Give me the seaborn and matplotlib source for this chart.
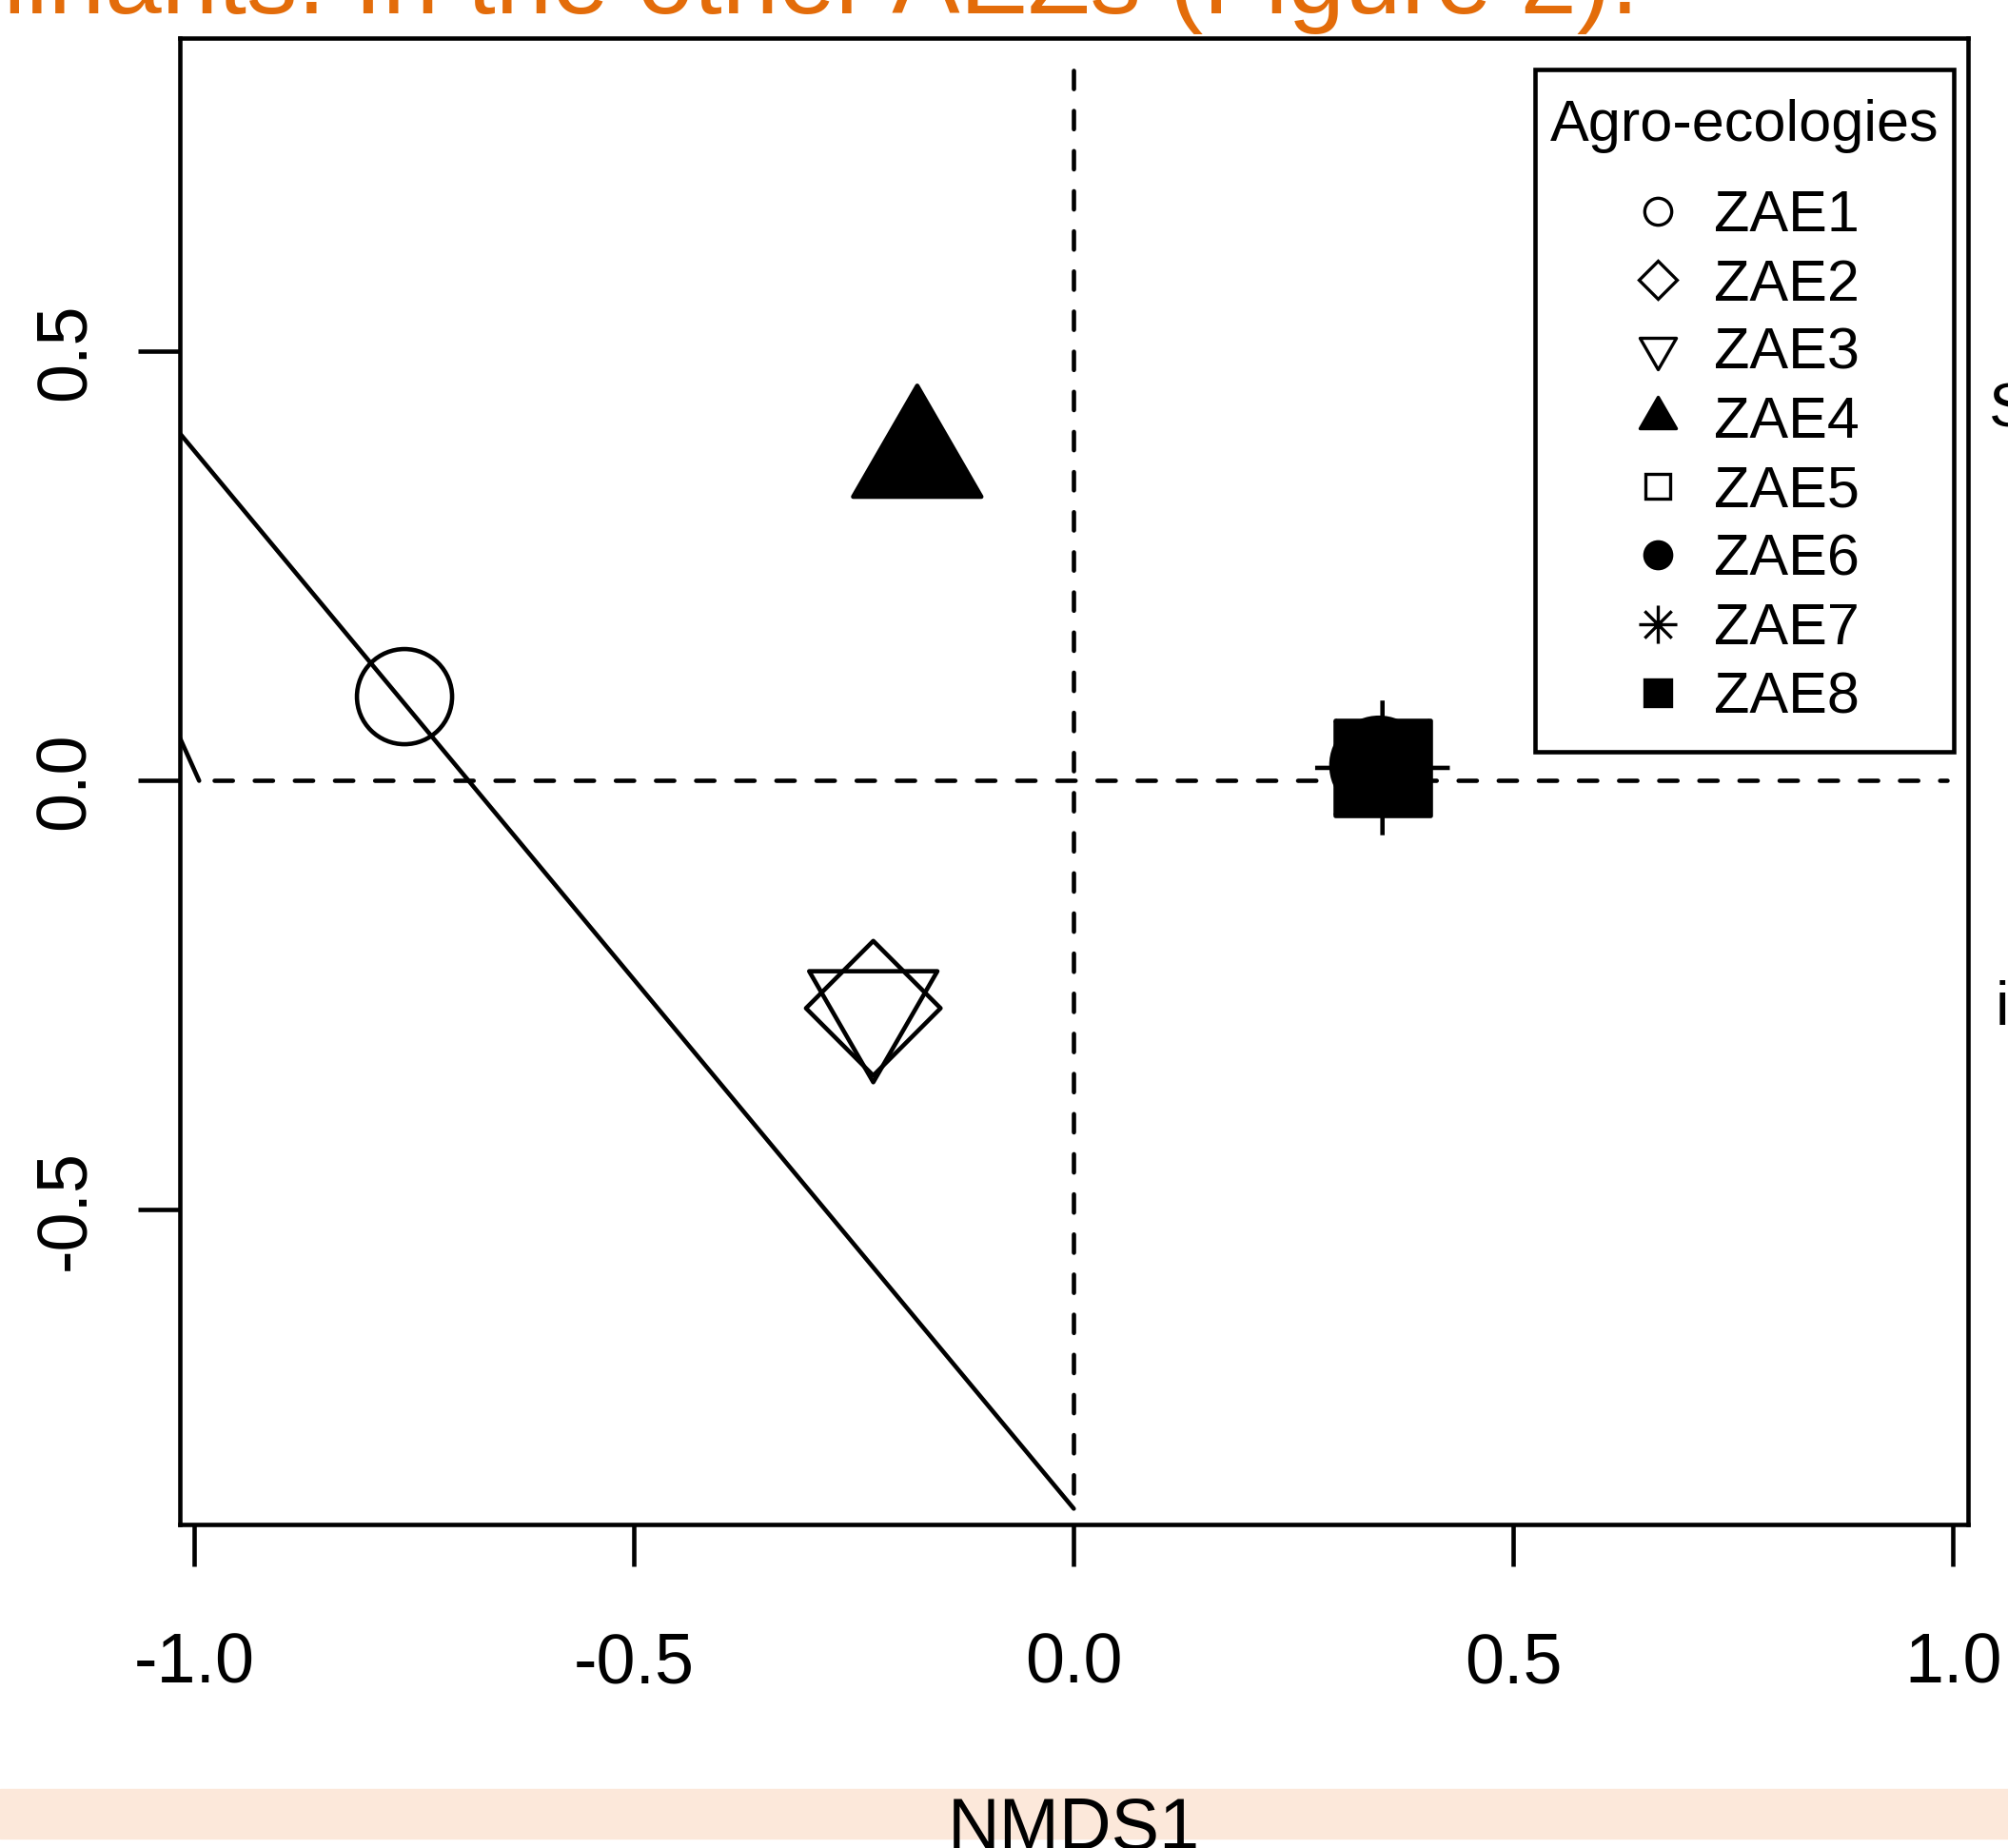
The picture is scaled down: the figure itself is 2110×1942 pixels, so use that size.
import numpy as np
import pandas as pd
import matplotlib
matplotlib.use("Agg")
import matplotlib.pyplot as plt
import matplotlib.patches as mpatches
from matplotlib.lines import Line2D
from matplotlib.path import Path
from matplotlib.offsetbox import DrawingArea
import seaborn as sns

# NMDS site scores for each agro-ecological zone
zones = ["ZAE1", "ZAE2", "ZAE3", "ZAE4", "ZAE5", "ZAE6", "ZAE7", "ZAE8"]
nmds1 = [-0.761, -0.228, -0.228, -0.178, 0.351, 0.347, 0.351, 0.351]
nmds2 = [0.098, -0.265, -0.265, 0.374, 0.015, 0.018, 0.015, 0.015]
filled = [False, False, False, True, False, True, False, True]

# hull edges crossing the plot region
hull_a_x = [-1.05, 0.0]
hull_a_y = [0.446, -0.848]
hull_b_x = [-1.05, -0.9945]
hull_b_y = [0.1265, 0.0]

# extent of the dashed zero lines
zero_h_span = [-0.978, 0.993]
zero_v_span = [-0.83, 0.848]

xticks = [-1.0, -0.5, 0.0, 0.5, 1.0]
xtick_labels = ["-1.0", "-0.5", "0.0", "0.5", "1.0"]
yticks = [-0.5, 0.0, 0.5]
ytick_labels = ["-0.5", "0.0", "0.5"]

sns.set_theme(style="ticks")
plt.rcParams["font.family"] = ["Liberation Sans", "DejaVu Sans"]
plt.rcParams["axes.unicode_minus"] = False
plt.rcParams["text.color"] = "black"
plt.rcParams["axes.labelcolor"] = "black"

# R-like plotting symbols (unit radius)
tri_up = Path([(0, 1.555), (1.3468, -0.7776), (-1.3468, -0.7776), (0, 1.555)], closed=True)
tri_down = Path([(0, -1.555), (1.3468, 0.7776), (-1.3468, 0.7776), (0, -1.555)], closed=True)
star = Path([(-1.414, 0), (1.414, 0), (0, -1.414), (0, 1.414),
             (-1, -1), (1, 1), (-1, 1), (1, -1)],
            [Path.MOVETO, Path.LINETO] * 4)
marker_shape = {"ZAE1": "o", "ZAE2": "D", "ZAE3": tri_down, "ZAE4": tri_up,
                "ZAE5": "s", "ZAE6": "o", "ZAE7": star, "ZAE8": "s"}
marker_scale = {"ZAE1": 2.0, "ZAE2": 2.0, "ZAE3": 3.11, "ZAE4": 3.11,
                "ZAE5": 1.772, "ZAE6": 2.0, "ZAE7": 2.83, "ZAE8": 2.0}

df = pd.DataFrame({"NMDS1": nmds1, "NMDS2": nmds2, "zone": zones, "filled": filled})

fig = plt.figure(figsize=(21.1, 19.42), dpi=100)
ax = fig.add_axes([0.08981, 0.17508, 0.89028, 0.80407])

lw = 3.3
# dashed zero lines
ax.plot(zero_h_span, [0, 0], color="black", lw=lw, ls=(0, (4.2, 5.0)), dash_capstyle="round")
ax.plot([0, 0], zero_v_span, color="black", lw=lw, ls=(0, (4.2, 5.0)), dash_capstyle="round")

# hull edges
sns.lineplot(x=hull_a_x, y=hull_a_y, sort=False, color="black", lw=lw, ax=ax)
sns.lineplot(x=hull_b_x, y=hull_b_y, sort=False, color="black", lw=lw, ax=ax)

# zone centroids
R_pt = 36
for is_filled, sub in df.groupby("filled"):
    sns.scatterplot(data=sub, x="NMDS1", y="NMDS2", style="zone", size="zone",
                    markers={z: marker_shape[z] for z in sub["zone"]},
                    sizes={z: (marker_scale[z] * R_pt) ** 2 for z in sub["zone"]},
                    facecolor="black" if is_filled else "none", edgecolor="black",
                    linewidth=lw, legend=False, ax=ax, zorder=3)

ax.set_xlim(-1.0159, 1.0168)
ax.set_ylim(-0.8664, 0.8647)
ax.set_xticks(xticks, xtick_labels)
ax.set_yticks(yticks, ytick_labels, rotation=90, va="center")
ax.tick_params(axis="both", direction="out", length=32, width=lw, colors="black",
               labelsize=53, top=False, right=False)
ax.tick_params(axis="x", pad=49)
ax.tick_params(axis="y", pad=30)
for sp in ax.spines.values():
    sp.set_visible(True)
    sp.set_linewidth(lw)
    sp.set_color("black")

ax.set_ylabel("")
ax.set_xlabel("NMDS1", fontsize=54.5, color="black")
ax.xaxis.set_label_coords(0.5, -0.183)

# legend
R_leg = 10.2
handles = [Line2D([], [], ls="none", marker=marker_shape[z], ms=marker_scale[z] * R_leg,
                  mfc="black" if f else "none", mec="black", mew=2.4)
           for z, f in zip(zones, filled)]
leg = ax.legend(handles, zones, title="Agro-ecologies", loc="upper right",
                bbox_to_anchor=(0.992, 0.979), borderaxespad=0, fontsize=44,
                title_fontsize=44, frameon=True, fancybox=False, edgecolor="black",
                framealpha=1, borderpad=0.26, labelspacing=0.25,
                handlelength=1.0, handletextpad=0.46)
leg.get_frame().set_linewidth(lw)
for t in leg.get_texts():
    t.set_color("black")
leg.get_title().set_color("black")
# extra vertical room above the title, between title and entries, and below
box = leg._legend_box
box.sep = 0
title_box, entries_box = box._children
box._children = [DrawingArea(0, 10.8), title_box, DrawingArea(0, 27.4),
                 entries_box, DrawingArea(0, 8.9)]

# surrounding document fragments
fig.add_artist(mpatches.Rectangle((0, 0.00515), 1, 0.0268, transform=fig.transFigure,
                                  color="#FCE8DA", zorder=-1))
fig.text(1722 / 2110, 1 - 14 / 1942, "determinants. In the other AEZs (Figure 2).",
         ha="right", va="baseline", fontsize=77, color="#E36C0A")
fig.text(2090 / 2110, 1 - 448 / 1942, "S", ha="left", va="baseline", fontsize=47, color="black")
fig.text(2097 / 2110, 1 - 1077 / 1942, "i", ha="left", va="baseline", fontsize=47, color="black")

fig.savefig("out.png", dpi=100, facecolor="white")
